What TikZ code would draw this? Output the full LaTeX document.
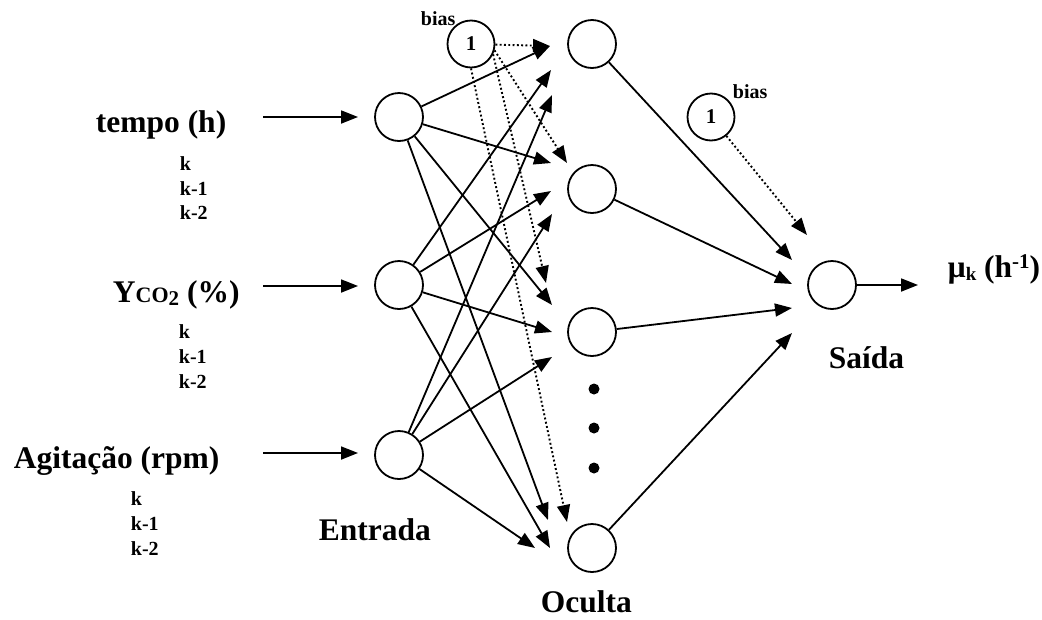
\documentclass[tikz,border=0pt]{standalone}
\usepackage{fontspec}
\setmainfont{Liberation Serif}
\usetikzlibrary{arrows.meta}
\newcommand{\bigf}{\fontsize{31.5}{36}\selectfont\bfseries}
\newcommand{\smallf}{\fontsize{20}{23}\selectfont\bfseries}
\begin{document}
\begin{tikzpicture}[x=1pt,y=-1pt,line width=1.8pt,
  neuron/.style={circle,draw,minimum size=48pt,inner sep=0pt,line width=1.8pt},
  biasnode/.style={circle,draw,minimum size=47pt,inner sep=0pt,line width=1.8pt,font=\fontsize{21}{21}\selectfont\bfseries},
  conn/.style={-{Triangle[length=17pt,width=13pt]}},
  dotconn/.style={conn,line width=1.9pt,dash pattern=on 1.9pt off 2.4pt},
  lbl/.style={anchor=base west,inner sep=0pt,font=\bigf},
  klbl/.style={anchor=base west,inner sep=0pt,font=\smallf}]
\useasboundingbox (0,0) rectangle (1042,619);

% input nodes
\node[neuron] (i1) at (399,117) {};
\node[neuron] (i2) at (399,285) {};
\node[neuron] (i3) at (399,455) {};
% hidden nodes
\node[neuron] (h1) at (592,44) {};
\node[neuron] (h2) at (592,189) {};
\node[neuron] (h3) at (592,332) {};
\node[neuron] (h4) at (592,548) {};
% output
\node[neuron] (o) at (832,285) {};
% bias
\node[biasnode] (b1) at (471,44) {1};
\node[biasnode] (b2) at (711,117) {1};

% dots
\foreach \yy in {389,428,468}
  \fill (594,\yy) circle (5.5pt);

% labels
\node[lbl] (ltempo) at (95,132) {tempo (h)};
\node[lbl] (lyco) at (112,302) {Y{\fontsize{22}{22}\selectfont CO}\raisebox{-3pt}{\fontsize{21}{21}\selectfont 2} (\%)};
\node[lbl] (lagit) at (13,468) {Agitação (rpm)};
\node[lbl] (lent) at (318,540) {Entrada};
\node[lbl] (locu) at (540,612) {Oculta};
\node[lbl] (lsai) at (828,368) {Saída};
\node[lbl] (lmu) at (947,277) {μ\raisebox{-3pt}{\fontsize{19}{19}\selectfont k} (h\raisebox{9pt}{\fontsize{21}{21}\selectfont -1})};
\node[klbl] (bl1) at (420,25) {bias};
\node[klbl] (bl2) at (732,98) {bias};

\foreach \yy/\tx/\nm in {170/k/a,195/k-1/b,219/k-2/c}
  \node[klbl] (kt\nm) at (179,\yy) {\tx};
\foreach \yy/\tx/\nm in {338/k/a,363/k-1/b,388/k-2/c}
  \node[klbl] (ky\nm) at (178,\yy) {\tx};
\foreach \yy/\tx/\nm in {505/k/a,530/k-1/b,555/k-2/c}
  \node[klbl] (ka\nm) at (130,\yy) {\tx};

% input arrows
\coordinate (s1) at (263,117); \coordinate (e1) at (358,117);
\coordinate (s2) at (263,286); \coordinate (e2) at (358,286);
\coordinate (s3) at (263,453); \coordinate (e3) at (358,453);
\draw[conn] (s1) -- (e1);
\draw[conn] (s2) -- (e2);
\draw[conn] (s3) -- (e3);

% tips at hidden layer
\coordinate (t11) at (550,46);
\coordinate (t21) at (551,70);
\coordinate (t31) at (552,95);
\coordinate (t12) at (551,163);
\coordinate (t22) at (551,191);
\coordinate (t32) at (552,214);
\coordinate (t13) at (552,305);
\coordinate (t23) at (552,332);
\coordinate (t33) at (552,357);
\coordinate (t14) at (548,520);
\coordinate (t24) at (550,548);
\coordinate (t34) at (535,548);
\coordinate (tb1) at (550,46);
\coordinate (tb2) at (567,163);
\coordinate (tb3) at (546,283);
\coordinate (tb4) at (567,522);

\foreach \i in {1,2,3}
  \foreach \h in {1,2,3,4}
    \draw[conn] (i\i) -- (t\i\h);

\draw[dotconn] (b1) -- (tb1);
\draw[dotconn] (b1.-15) -- (tb2);
\draw[dotconn] (b1.-25) -- (tb3);
\draw[dotconn] (b1.-90) -- (tb4);

% to output
\coordinate (u1) at (792,260);
\coordinate (u2) at (792,284);
\coordinate (u3) at (792,308);
\coordinate (u4) at (792,333);
\coordinate (ub) at (807,235);
\foreach \h in {1,2,3,4}
  \draw[conn] (h\h) -- (u\h);
\draw[dotconn] (b2) -- (ub);

\coordinate (oe) at (918,285);
\draw[conn] (o) -- (oe);
\end{tikzpicture}
\end{document}
